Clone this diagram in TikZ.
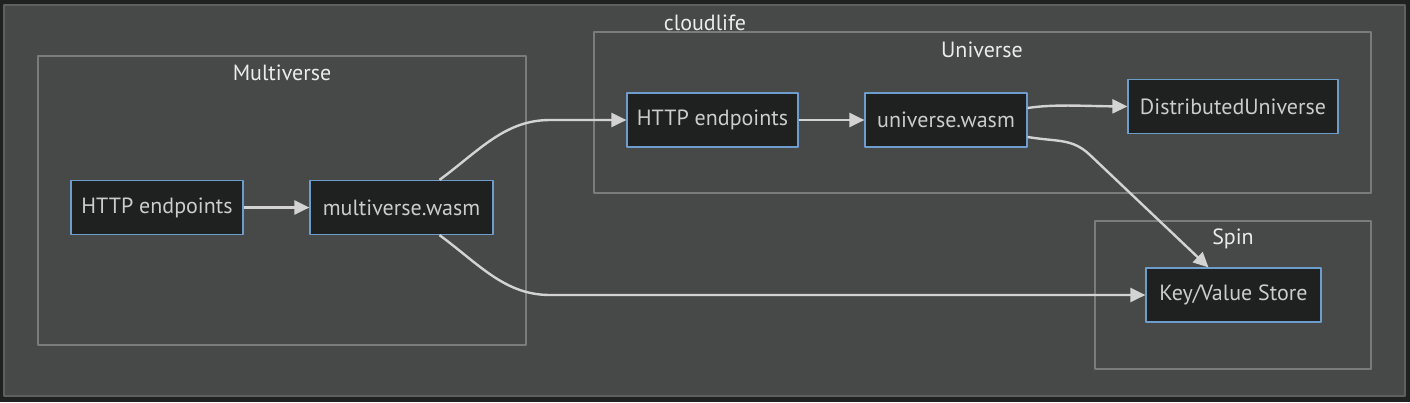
\documentclass[tikz,border=0pt]{standalone}
\usepackage{fontspec}
\setmainfont{PT Sans}
\usetikzlibrary{arrows.meta}
\definecolor{pagebg}{HTML}{1F2020}
\definecolor{clusterbg}{HTML}{474949}
\definecolor{outerline}{HTML}{5E6060}
\definecolor{clusterline}{HTML}{7A7C7C}
\definecolor{nodebg}{HTML}{1F2020}
\definecolor{nodeline}{HTML}{6C9DCD}
\definecolor{nodetext}{HTML}{CCCCCC}
\definecolor{edgecol}{HTML}{D3D3D3}
\tikzset{
  box/.style={draw=nodeline, fill=nodebg, line width=1.2pt, text=nodetext,
    minimum height=54pt, inner sep=0pt, font=\fontsize{22}{26}\selectfont},
  cluster/.style={draw=clusterline, line width=1.2pt},
  title/.style={text=white!92!black, font=\fontsize{22}{26}\selectfont},
  edge/.style={draw=edgecol, line width=2.4pt, -{Triangle[length=15pt,width=14pt]}}
}
\begin{document}
\begin{tikzpicture}[x=1pt, y=-1pt, line join=round]
  \fill[pagebg] (0,0) rectangle (1410,402);
  % cloudlife
  \filldraw[fill=clusterbg, draw=outerline, line width=1.5pt] (4,5) rectangle (1405,396);
  \node[title] (cloudlife) at (705,23) {cloudlife};
  % subgraphs
  \draw[cluster] (38,56) rectangle (526,345);
  \node[title] (multiverse) at (282,73) {Multiverse};
  \draw[cluster] (594,32) rectangle (1371,193);
  \node[title] (universe) at (982,50) {Universe};
  \draw[cluster] (1095,221) rectangle (1371,369);
  \node[title] (spin) at (1233,239) {Spin};
  % nodes
  \node[box, minimum width=172pt] (mhttp) at (157,207.5) {HTTP endpoints};
  \node[box, minimum width=183pt] (mwasm) at (401.5,207.5) {multiverse.wasm};
  \node[box, minimum width=171pt] (uhttp) at (712.5,120) {HTTP endpoints};
  \node[box, minimum width=162pt] (uwasm) at (946,120) {universe.wasm};
  \node[box, minimum width=210pt] (distu) at (1233,106.5) {DistributedUniverse};
  \node[box, minimum width=175pt] (kvstore) at (1233.5,295) {Key/Value Store};
  % edges
  \draw[edge] (mhttp) -- (mwasm);
  \draw[edge] ([xshift=38pt]mwasm.north) .. controls (480,150) and (505,120) .. (550,120) -- (uhttp.west);
  \draw[edge] ([xshift=38pt]mwasm.south) .. controls (480,265) and (505,295) .. (550,295) -- (kvstore.west);
  \draw[edge] (uhttp) -- (uwasm);
  \draw[edge] ([yshift=12pt]uwasm.east) .. controls (1055,104) and (1080,106) .. (distu.west);
  \draw[edge] ([yshift=-17pt]uwasm.east) .. controls (1058,142) and (1072,138) .. (1090,155) -- ([xshift=-25pt]kvstore.north);
\end{tikzpicture}
\end{document}
